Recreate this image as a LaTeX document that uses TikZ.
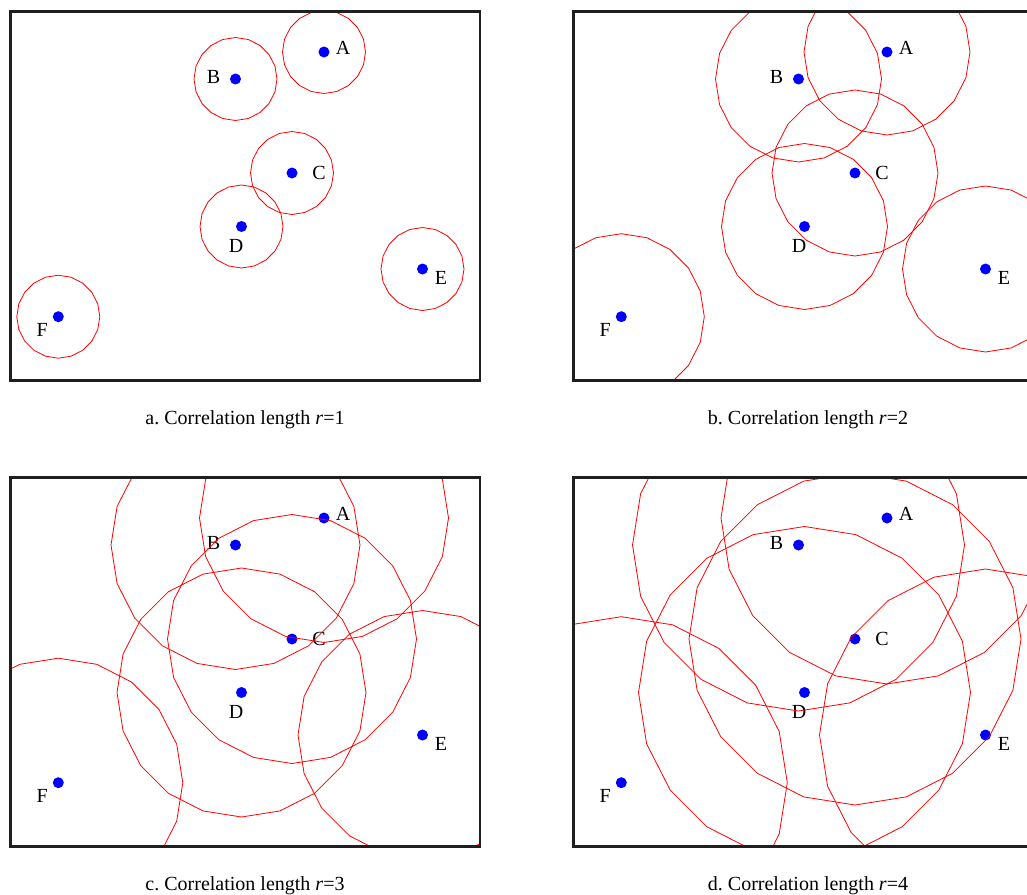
\documentclass[tikz,border=0pt]{standalone}
\usepackage{fontspec}
\setmainfont{Liberation Serif}

\tikzset{
  site/.style={circle, fill=blue, inner sep=0pt, minimum size=11pt},
  sitelabel/.style={font=\fontsize{20}{24}\selectfont, inner sep=0pt},
  reach/.style={red, line width=0.8pt, line join=round},
  frame/.style={black!88, line width=2.7pt},
  caption/.style={font=\fontsize{20}{24}\selectfont},
}

\begin{document}
\begin{tikzpicture}[x=1pt, y=-1pt]
  \useasboundingbox (0,0) rectangle (1027,894);
  \foreach \p/\dx/\dy/\rad/\val in {a/0/0/41.5/1, b/563/0/83/2, c/0/466/124.5/3, d/563/466/166/4} {
    \begin{scope}[shift={(\dx,\dy)}]
      % Sites
      \coordinate (A\p) at (324,52);
      \coordinate (B\p) at (235.5,79);
      \coordinate (C\p) at (292,173);
      \coordinate (D\p) at (241.5,226.5);
      \coordinate (E\p) at (422.5,269);
      \coordinate (F\p) at (58.3,316.7);
      \foreach \s in {A,B,C,D,E,F}
        \node[site] (dot\s\p) at (\s\p) {};
      % Labels
      \node[sitelabel] (lab A\p) at ([shift={(19,-4)}]dotA\p) {A};
      \node[sitelabel] (lab B\p) at ([shift={(-22,-2)}]dotB\p) {B};
      \node[sitelabel] (lab C\p) at ([shift={(27,0)}]dotC\p) {C};
      \node[sitelabel] (lab D\p) at ([shift={(-5.5,19)}]dotD\p) {D};
      \node[sitelabel] (lab E\p) at ([shift={(18.5,9)}]dotE\p) {E};
      \node[sitelabel] (lab F\p) at ([shift={(-16,13.5)}]dotF\p) {F};
      % Correlation circles
      \begin{scope}
        \clip (10.7,11.3) rectangle (480,380.7);
        \foreach \s in {A,B,C,D,E,F}
          \draw[reach] (\s\p) +(0:\rad pt)
            \foreach \a in {18,36,...,360} { -- +(\a:\rad pt) };
      \end{scope}
      % Frame
      \draw[frame] (10.7,11.3) rectangle (480,380.7);
      \node[caption] (cap\p) at (245,420)
        {\p.\ Correlation length \textit{r}=\val};
    \end{scope}
  }
\end{tikzpicture}
\end{document}
